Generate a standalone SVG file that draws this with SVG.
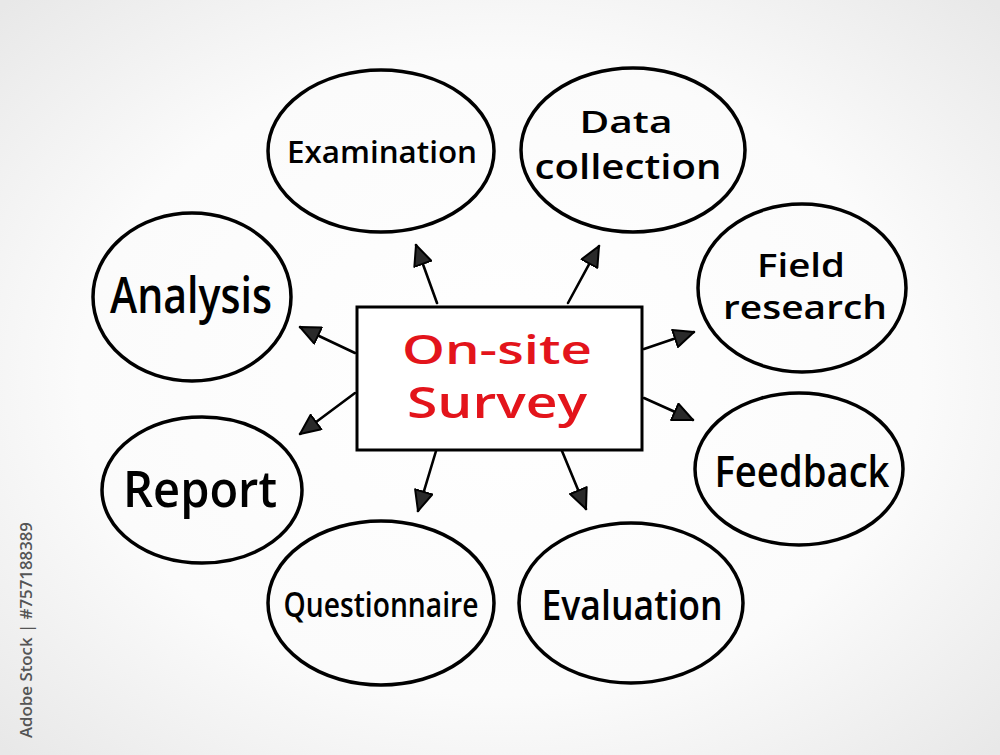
<svg xmlns="http://www.w3.org/2000/svg" width="1000" height="755" viewBox="0 0 1000 755">
  <defs>
    <radialGradient id="bg" cx="50%" cy="50%" r="70%">
      <stop offset="0%" stop-color="#ffffff"/>
      <stop offset="60%" stop-color="#fbfbfb"/>
      <stop offset="100%" stop-color="#e8e8e8"/>
    </radialGradient>
    <marker id="arrow" viewBox="0 0 22 20" refX="21" refY="10" markerWidth="22" markerHeight="20" markerUnits="userSpaceOnUse" orient="auto">
      <path d="M1,1 L21,10 L1,19 Z" fill="#2a2a2a" stroke="#000" stroke-width="2" stroke-linejoin="round"/>
    </marker>
    <style>
      .node ellipse { fill: none; stroke: #000; stroke-width: 3.5; }
      .lbl { font-family: "Open Sans", "DejaVu Sans", sans-serif; font-weight: 600; fill: #000; text-anchor: middle; }
      .center-lbl { font-family: "Open Sans", "DejaVu Sans", sans-serif; font-weight: 600; fill: #e3141b; text-anchor: middle; }
      .conn line { stroke: #000; stroke-width: 2.6; stroke-linecap: round; }
    </style>
  </defs>

  <rect x="0" y="0" width="1000" height="755" fill="url(#bg)"/>

  <g id="connectors" class="conn">
    <line x1="437" y1="303" x2="416" y2="245" marker-end="url(#arrow)"/>
    <line x1="568" y1="303" x2="599" y2="246" marker-end="url(#arrow)"/>
    <line x1="355" y1="353" x2="300" y2="327" marker-end="url(#arrow)"/>
    <line x1="355" y1="393" x2="300" y2="434" marker-end="url(#arrow)"/>
    <line x1="644" y1="349" x2="694" y2="332" marker-end="url(#arrow)"/>
    <line x1="644" y1="398" x2="693" y2="420" marker-end="url(#arrow)"/>
    <line x1="436" y1="451" x2="418" y2="511" marker-end="url(#arrow)"/>
    <line x1="562" y1="451" x2="586" y2="509" marker-end="url(#arrow)"/>
  </g>

  <g id="center">
    <rect x="357" y="307" width="285" height="143" fill="#fff" stroke="#000" stroke-width="3"/>
    <text class="center-lbl" x="497" y="364" font-size="40" textLength="190" lengthAdjust="spacingAndGlyphs">On-site</text>
    <text class="center-lbl" x="497" y="418" font-size="44" textLength="180" lengthAdjust="spacingAndGlyphs">Survey</text>
  </g>

  <g id="examination" class="node">
    <ellipse cx="381" cy="151" rx="113" ry="81"/>
    <text class="lbl" x="382" y="163" font-size="30" textLength="190" lengthAdjust="spacingAndGlyphs">Examination</text>
  </g>

  <g id="data-collection" class="node">
    <ellipse cx="633" cy="150" rx="112" ry="82"/>
    <text class="lbl" x="626" y="133" font-size="31" textLength="93" lengthAdjust="spacingAndGlyphs">Data</text>
    <text class="lbl" x="628" y="179" font-size="34" textLength="187" lengthAdjust="spacingAndGlyphs">collection</text>
  </g>

  <g id="field-research" class="node">
    <ellipse cx="802" cy="288" rx="104" ry="84"/>
    <text class="lbl" x="801" y="277" font-size="32" textLength="88" lengthAdjust="spacingAndGlyphs">Field</text>
    <text class="lbl" x="805" y="319" font-size="33" textLength="164" lengthAdjust="spacingAndGlyphs">research</text>
  </g>

  <g id="feedback" class="node">
    <ellipse cx="799" cy="469" rx="104" ry="76"/>
    <text class="lbl" x="802" y="487" font-size="44" textLength="175" lengthAdjust="spacingAndGlyphs">Feedback</text>
  </g>

  <g id="evaluation" class="node">
    <ellipse cx="631" cy="603" rx="112" ry="80"/>
    <text class="lbl" x="632" y="620" font-size="42" textLength="181" lengthAdjust="spacingAndGlyphs">Evaluation</text>
  </g>

  <g id="questionnaire" class="node">
    <ellipse cx="381" cy="603" rx="113" ry="82"/>
    <text class="lbl" x="381" y="617" font-size="34" textLength="195" lengthAdjust="spacingAndGlyphs">Questionnaire</text>
  </g>

  <g id="report" class="node">
    <ellipse cx="202" cy="490" rx="100" ry="73"/>
    <text class="lbl" x="200" y="507" font-size="50" textLength="154" lengthAdjust="spacingAndGlyphs">Report</text>
  </g>

  <g id="analysis" class="node">
    <ellipse cx="192" cy="297" rx="99" ry="84"/>
    <text class="lbl" x="191" y="313" font-size="50" textLength="162" lengthAdjust="spacingAndGlyphs">Analysis</text>
  </g>

  <text x="0" y="0" transform="translate(32,738) rotate(-90)" font-family="Open Sans, DejaVu Sans, sans-serif" font-size="17" font-weight="600" fill="#555" textLength="216" lengthAdjust="spacingAndGlyphs">Adobe Stock | #757188389</text>
</svg>
